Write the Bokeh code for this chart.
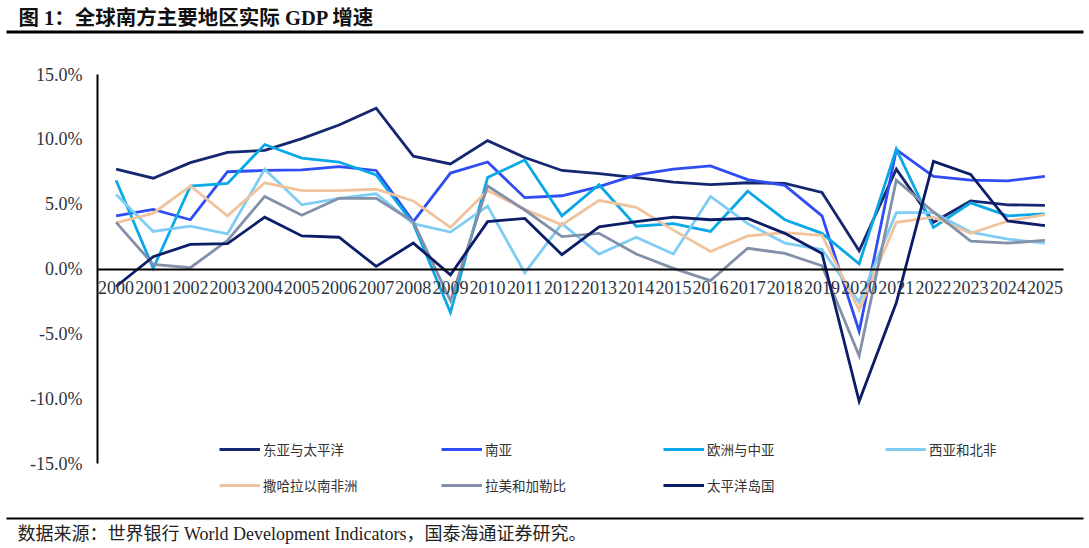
import numpy as np
from bokeh.plotting import figure
from bokeh.models import (Range1d, FixedTicker, Legend, LegendItem, Label,
                          BoxAnnotation, LinearAxis)
from bokeh.embed import file_html
from bokeh.resources import INLINE

years = list(range(2000, 2026))

east_asia = [7.7, 7.0, 8.2, 9.0, 9.15, 10.05, 11.1, 12.4, 8.7, 8.1, 9.9, 8.6, 7.6,
             7.35, 7.05, 6.7, 6.5, 6.65, 6.6, 5.9, 1.4, 7.7, 3.6, 5.25, 4.95, 4.9]
south_asia = [4.1, 4.6, 3.8, 7.5, 7.6, 7.65, 7.9, 7.6, 3.65, 7.4, 8.25, 5.5, 5.65,
              6.35, 7.25, 7.7, 7.95, 6.9, 6.45, 4.1, -4.8, 9.2, 7.15, 6.85, 6.8, 7.15]
europe = [6.85, 0.05, 6.4, 6.6, 9.6, 8.55, 8.25, 7.25, 3.5, -3.35, 7.05, 8.4, 4.1,
          6.5, 3.3, 3.5, 2.9, 6.0, 3.8, 2.75, 0.4, 9.25, 3.2, 5.1, 4.1, 4.25]
west_asia = [5.75, 2.9, 3.3, 2.7, 7.7, 4.95, 5.45, 5.8, 3.5, 2.85, 4.85, -0.3, 3.5,
             1.15, 2.45, 1.15, 5.6, 3.5, 2.0, 1.5, -2.55, 4.35, 4.35, 2.85, 2.3, 2.0]
ssa = [3.55, 4.3, 6.4, 4.1, 6.65, 6.05, 6.05, 6.15, 5.25, 3.2, 6.05, 4.6, 3.4,
       5.3, 4.75, 3.0, 1.35, 2.55, 2.8, 2.6, -3.15, 3.6, 4.0, 2.75, 3.7, 4.2]
latam = [3.6, 0.35, 0.1, 2.2, 5.6, 4.15, 5.45, 5.45, 3.65, -2.45, 6.4, 4.55, 2.5,
         2.75, 1.15, 0.05, -0.9, 1.6, 1.2, 0.25, -6.7, 6.85, 4.4, 2.15, 2.0, 2.2]
pacific = [-1.35, 0.95, 1.9, 1.95, 4.0, 2.55, 2.45, 0.2, 2.0, -0.45, 3.65, 3.9, 1.1,
           3.25, 3.65, 4.0, 3.8, 3.9, 2.75, 1.2, -10.2, -2.6, 8.3, 7.3, 3.7, 3.35]

names = ["东亚与太平洋", "南亚", "欧洲与中亚", "西亚和北非",
         "撒哈拉以南非洲", "拉美和加勒比", "太平洋岛国"]
series = [east_asia, south_asia, europe, west_asia, ssa, latam, pacific]
colors = ["#15286f", "#2f4df2", "#0aa8e6", "#80cdf3",
          "#f0c39d", "#8390a9", "#0c1d68"]

y_ticks = [-15, -10, -5, 0, 5, 10, 15]

SERIF = "'Liberation Serif', 'Noto Sans CJK SC'"
CJK = "'Noto Sans CJK SC', 'Liberation Serif'"

# canvas = frame; the plotting area sits inside it at these pixels
W, H = 1089, 548
AX_L, AX_R, AX_T, AX_B = 97, 1063, 74, 463
x0, x1 = -0.5, len(years) - 0.5
y0, y1 = -15, 15
kx = (x1 - x0) / (AX_R - AX_L)
ky = (y1 - y0) / (AX_B - AX_T)
x_range = Range1d(x0 - AX_L * kx, x1 + (W - AX_R) * kx)
y_range = Range1d(y0 - (H - AX_B) * ky, y1 + AX_T * ky)

p = figure(width=W, height=H, output_backend="svg", toolbar_location=None,
           x_range=x_range, y_range=y_range,
           x_axis_location=None, y_axis_location=None,
           min_border=0)
p.title.visible = False
p.outline_line_color = None
p.grid.grid_line_color = None
p.background_fill_color = "white"
p.border_fill_color = "white"

x = np.arange(len(years))
renderers = []
for vals, c in zip(series, colors):
    r = p.line(x, vals, line_color=c, line_width=2.8, line_join="miter")
    renderers.append(r)

# x axis sits on the zero line
xa = LinearAxis(fixed_location=0, bounds=(x0, x1))
xa.ticker = FixedTicker(ticks=list(range(len(years))))
xa.major_label_overrides = {i: str(yr) for i, yr in enumerate(years)}
xa.axis_line_color = "black"
xa.axis_line_width = 2
xa.major_tick_line_color = None
xa.minor_tick_line_color = None
xa.major_tick_in = 0
xa.major_tick_out = 0
xa.major_label_standoff = 12
xa.major_label_text_font = SERIF
xa.major_label_text_font_size = "18px"
xa.major_label_text_color = "#2b3440"
p.add_layout(xa, "below")

ya = LinearAxis(fixed_location=x0, bounds=(y0, y1))
ya.ticker = FixedTicker(ticks=y_ticks)
ya.major_label_overrides = {t: "%.1f%%" % t for t in y_ticks}
ya.axis_line_color = "black"
ya.axis_line_width = 2
ya.major_tick_line_color = None
ya.minor_tick_line_color = None
ya.major_tick_in = 0
ya.major_tick_out = 0
ya.major_label_standoff = 15
ya.major_label_text_font = SERIF
ya.major_label_text_font_size = "18px"
ya.major_label_text_color = "#2b3440"
p.add_layout(ya, "left")

legend = Legend(items=[LegendItem(label=n, renderers=[r])
                       for n, r in zip(names, renderers)],
                location=(219, H - 503), orientation="horizontal", ncols=4,
                glyph_width=41, glyph_height=36, label_standoff=3,
                label_width=178, label_height=36, spacing=0, padding=0,
                margin=0, border_line_color=None, background_fill_alpha=0,
                label_text_font=CJK, label_text_font_size="13.5px",
                label_text_color="#333333")
p.add_layout(legend, "center")

# title, rules and source note (screen units, y measured up from the bottom)
p.add_layout(Label(x=18, y=H - 17, x_units="screen", y_units="screen",
                   text="图 1：全球南方主要地区实际 GDP 增速",
                   text_font=SERIF, text_font_style="bold",
                   text_font_size="20.5px", text_baseline="middle",
                   text_color="#111111"))
p.add_layout(BoxAnnotation(left=6, right=1083, top=H - 30, bottom=H - 33,
                           left_units="screen", right_units="screen",
                           top_units="screen", bottom_units="screen",
                           fill_color="black", fill_alpha=1, line_color=None))
p.add_layout(BoxAnnotation(left=6, right=1083, top=H - 517, bottom=H - 519,
                           left_units="screen", right_units="screen",
                           top_units="screen", bottom_units="screen",
                           fill_color="black", fill_alpha=1, line_color=None))
p.add_layout(Label(x=17, y=H - 533, x_units="screen", y_units="screen",
                   text="数据来源：世界银行 World Development Indicators，国泰海通证券研究。",
                   text_font=SERIF, text_font_size="18px",
                   text_baseline="middle", text_color="#222222"))

open("out.html", "w").write(file_html(p, INLINE))
